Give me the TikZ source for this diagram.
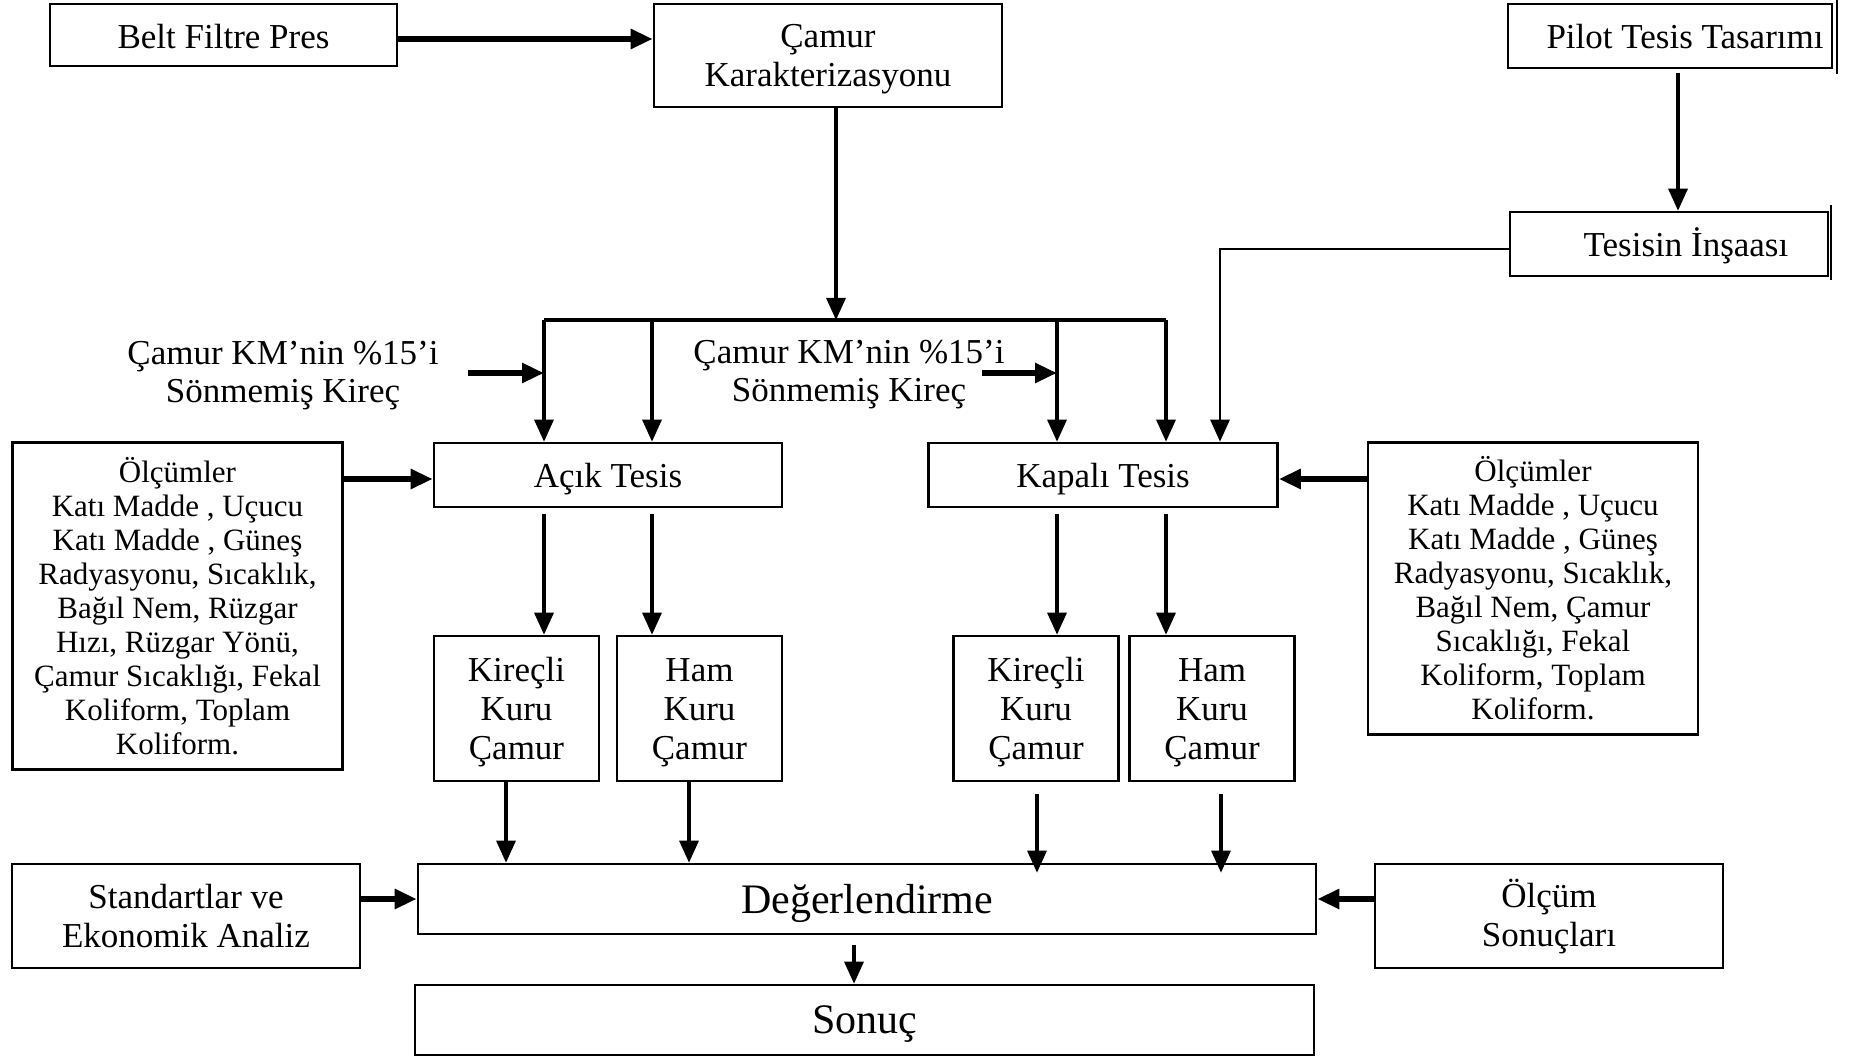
\documentclass[tikz,border=0pt]{standalone}
\usepackage{fontspec}
\setmainfont{Liberation Serif}
\usetikzlibrary{arrows.meta,calc}
\newcommand\lowtxt[2]{\raisebox{0pt}[\dimexpr\height+#1\relax][\depth]{\begin{tabular}{@{}c@{}}#2\end{tabular}}}
\begin{document}
\begin{tikzpicture}[x=1pt,y=-1pt,
  box/.style={draw,line width=2.6pt,inner sep=0pt,align=center,font=\fontsize{35}{39}\selectfont},
  small/.style={font=\fontsize{31}{34}\selectfont},
  big/.style={font=\fontsize{42}{48}\selectfont},
  lbl/.style={align=center,font=\fontsize{35}{38}\selectfont},
  arr/.style={line width=3.2pt,-{Triangle[length=22pt,width=19pt]}},
  tarr/.style={line width=5.5pt,-{Triangle[length=22pt,width=19pt]}},
  ln/.style={line width=3.2pt}]
\useasboundingbox (0,0) rectangle (1859,1056);

% boxes
\node[box,minimum width=347pt,minimum height=62pt] (belt) at (223.5,35) {\lowtxt{11pt}{Belt Filtre Pres}};
\node[box,minimum width=348pt,minimum height=103pt] (camur) at (828,55.5) {\lowtxt{8pt}{Çamur\\Karakterizasyonu}};
\node[box,minimum width=324pt,minimum height=64pt] (pilot) at (1670,36) {\lowtxt{10pt}{\hspace*{30pt}Pilot Tesis Tasarımı}};
\node[box,minimum width=318pt,minimum height=64pt] (tesis) at (1669,244) {\lowtxt{7pt}{\hspace*{34pt}Tesisin İnşaası}};
\node[box,minimum width=348pt,minimum height=64pt] (acik) at (608,475) {\lowtxt{9pt}{Açık Tesis}};
\node[box,minimum width=349pt,minimum height=64pt] (kapali) at (1103,475) {\lowtxt{9pt}{Kapalı Tesis}};
\node[box,small,minimum width=330pt,minimum height=327pt] (olc1) at (177.5,606) {Ölçümler\\Katı Madde , Uçucu\\Katı Madde , Güneş\\Radyasyonu, Sıcaklık,\\Bağıl Nem, Rüzgar\\Hızı, Rüzgar Yönü,\\Çamur Sıcaklığı, Fekal\\Koliform, Toplam\\Koliform.};
\node[box,small,minimum width=330pt,minimum height=292pt] (olc2) at (1533,588.5) {Ölçümler\\Katı Madde , Uçucu\\Katı Madde , Güneş\\Radyasyonu, Sıcaklık,\\Bağıl Nem, Çamur\\Sıcaklığı, Fekal\\Koliform, Toplam\\Koliform.};
\node[box,minimum width=165pt,minimum height=145pt] (kc1) at (516.5,708.5) {\lowtxt{8pt}{Kireçli\\Kuru\\Çamur}};
\node[box,minimum width=165pt,minimum height=145pt] (hk1) at (699.5,708.5) {\lowtxt{8pt}{Ham\\Kuru\\Çamur}};
\node[box,minimum width=165pt,minimum height=145pt] (kc2) at (1036,708.5) {\lowtxt{8pt}{Kireçli\\Kuru\\Çamur}};
\node[box,minimum width=165pt,minimum height=145pt] (hk2) at (1212,708.5) {\lowtxt{8pt}{Ham\\Kuru\\Çamur}};
\node[box,big,minimum width=898pt,minimum height=70pt] (deg) at (867,899) {\lowtxt{9pt}{Değerlendirme}};
\node[box,minimum width=348pt,minimum height=104pt] (std) at (186,916) {\lowtxt{9pt}{Standartlar ve\\Ekonomik Analiz}};
\node[box,minimum width=348pt,minimum height=104pt] (olcs) at (1549,916) {\lowtxt{6pt}{Ölçüm\\Sonuçları}};
\node[box,big,minimum width=899pt,minimum height=70pt] (sonuc) at (864.5,1020) {\lowtxt{7pt}{Sonuç}};

% labels
\node[lbl] (kir1) at (283,376) {Çamur KM’nin \%15’i\\Sönmemiş Kireç};
\node[lbl] (kir2) at (849,375) {Çamur KM’nin \%15’i\\Sönmemiş Kireç};

% extra right borders
\draw[line width=2pt] ($(pilot.north east)+(4,-3)$) -- ($(pilot.south east)+(4,5)$);
\draw[line width=2pt] ($(tesis.north east)+(2,-6)$) -- ($(tesis.south east)+(2,3)$);

% coordinates
\coordinate (xa) at (544,320);
\coordinate (xb) at (652,320);
\coordinate (xc) at (1057,320);
\coordinate (xd) at (1166,320);
\coordinate (busC) at (836,320);
\coordinate (xe) at (1220,249);
\coordinate (px) at (1678,73);
\coordinate (by) at (0,39);
\coordinate (ay) at (0,479);
\coordinate (k1s) at (468,373);
\coordinate (k2s) at (982,373);
\coordinate (d1) at (506,0);
\coordinate (d2) at (689,0);
\coordinate (d3) at (1037,0);
\coordinate (d4) at (1221,0);
\coordinate (d5) at (854,0);

% connectors
\draw[tarr] (belt.east |- by) -- (camur.west |- by);
\draw[arr] (camur.south -| busC) -- (busC);
\draw[ln] (xa) -- (xd);
\draw[arr] (xa) -- (xa |- acik.north);
\draw[arr] (xb) -- (xb |- acik.north);
\draw[arr] (xc) -- (xc |- kapali.north);
\draw[arr] (xd) -- (xd |- kapali.north);
\draw[tarr] (k1s) -- (k1s -| xa);
\draw[tarr] (k2s) -- (k2s -| xc);
\draw[arr] (px) -- (px |- tesis.north);
\draw[arr,line width=2.8pt] (tesis.west |- xe) -- (xe) -- (xe |- kapali.north);
\draw[tarr] (olc1.east |- ay) -- (acik.west |- ay);
\draw[tarr] (olc2.west |- ay) -- (kapali.east |- ay);
\draw[arr] ($(acik.south -| xa)+(0,6)$) -- (xa |- kc1.north);
\draw[arr] ($(acik.south -| xb)+(0,6)$) -- (xb |- hk1.north);
\draw[arr] ($(kapali.south -| xc)+(0,6)$) -- (xc |- kc2.north);
\draw[arr] ($(kapali.south -| xd)+(0,6)$) -- (xd |- hk2.north);
\draw[arr] (kc1.south -| d1) -- (d1 |- deg.north);
\draw[arr] (hk1.south -| d2) -- (d2 |- deg.north);
\draw[arr] ($(kc2.south -| d3)+(0,12)$) -- ($(d3 |- deg.north)+(0,10)$);
\draw[arr] ($(hk2.south -| d4)+(0,12)$) -- ($(d4 |- deg.north)+(0,10)$);
\draw[tarr] (std.east |- deg.west) -- (deg.west);
\draw[tarr] (olcs.west |- deg.east) -- (deg.east);
\draw[arr] ($(deg.south -| d5)+(0,10)$) -- (d5 |- sonuc.north);
\end{tikzpicture}
\end{document}
